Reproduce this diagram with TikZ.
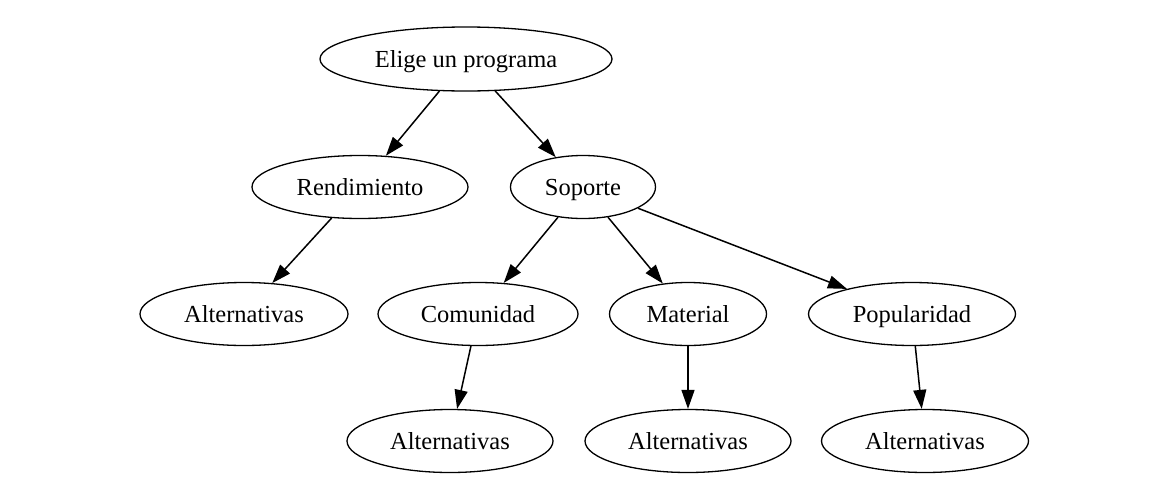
\documentclass[tikz,border=0pt]{standalone}
\usepackage{fontspec}
\setmainfont{Liberation Serif}
\usetikzlibrary{shapes.geometric,arrows.meta}
\begin{document}
\begin{tikzpicture}[x=1pt,y=-1pt,
  nd/.style={draw,ellipse,line width=1.3pt,inner sep=0pt,minimum height=63pt,text height=19pt,text depth=3pt,font=\fontsize{24.5}{28}\selectfont},
  ed/.style={draw,line width=1.5pt,-{Triangle[length=19pt,width=13pt]}}]
\useasboundingbox (0,0) rectangle (1167,493);
\node[nd,minimum width=292pt,minimum height=64pt] (top) at (466,59) {Elige un programa};
\node[nd,minimum width=216pt] (ren) at (360,187) {Rendimiento};
\node[nd,minimum width=145pt] (sop) at (583,187) {Soporte};
\node[nd,minimum width=208pt] (alt0) at (244,314) {Alternativas};
\node[nd,minimum width=200pt] (com) at (478,314) {Comunidad};
\node[nd,minimum width=157pt] (mat) at (688,314) {Material};
\node[nd,minimum width=207pt] (pop) at (912,314) {Popularidad};
\node[nd,minimum width=206pt] (alt1) at (450,441) {Alternativas};
\node[nd,minimum width=206pt] (alt2) at (688,441) {Alternativas};
\node[nd,minimum width=207pt] (alt3) at (925,441) {Alternativas};
\draw[ed] (top) -- (ren);
\draw[ed] (top) -- (sop);
\draw[ed] (ren) -- (alt0);
\draw[ed] (sop) -- (com);
\draw[ed] (sop) -- (mat);
\draw[ed] (sop) -- (pop);
\draw[ed] (com) -- (alt1);
\draw[ed] (mat) -- (alt2);
\draw[ed] (pop) -- (alt3);
\end{tikzpicture}
\end{document}
